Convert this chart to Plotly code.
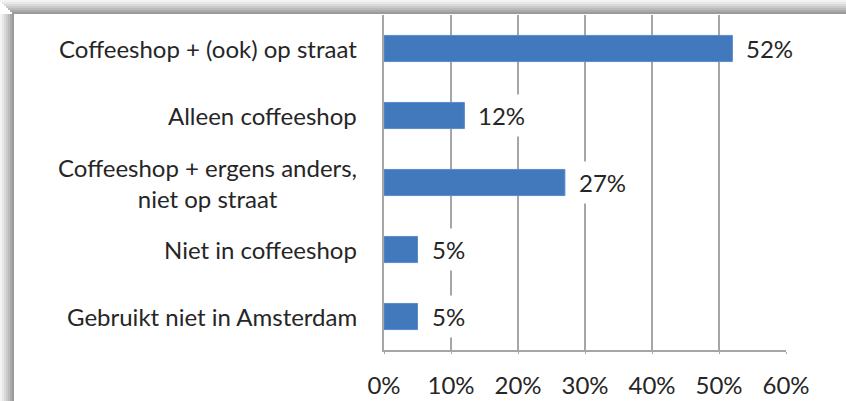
import plotly.graph_objects as go

# Survey answers and share of respondents
categories = [
    "Coffeeshop + (ook) op straat",
    "Alleen coffeeshop",
    "Coffeeshop + ergens anders,<br>niet op straat",
    "Niet in coffeeshop",
    "Gebruikt niet in Amsterdam",
]
shares = [52, 12, 27, 5, 5]
tick_values = [0, 10, 20, 30, 40, 50, 60]
tick_labels = ["0%", "10%", "20%", "30%", "40%", "50%", "60%"]

W, H = 846, 401
L, R, T, B = 384, 60, 15, 51
pw, ph = W - L - R, H - T - B


def px_x(px):
    return (px - L) / pw


def px_y(py):
    return (H - B - py) / ph


font = dict(family="Lato, 'Open Sans', sans-serif", size=24, color="#262626")
grid = "#a6a6a6"

fig = go.Figure(
    go.Bar(
        x=shares,
        y=categories,
        orientation="h",
        marker=dict(color="#4179bc", line=dict(color="#5a8ccb", width=1)),
        width=0.39,
        hoverinfo="skip",
    )
)

# category labels (centered lines, right-aligned block)
for c in categories:
    fig.add_annotation(x=px_x(359), xref="paper", y=c, yref="y", text=c,
                       showarrow=False, xanchor="right", align="center", font=font)

# value labels with white box
for c, v in zip(categories, shares):
    fig.add_annotation(x=v, y=c, text=f"{v}%", showarrow=False, xanchor="left",
                       xshift=7, bgcolor="white", borderpad=6, font=font)

# frame shadow on the left and top
shades = ["#f4f4f4", "#e8e8e8", "#dadada", "#cbcbcb", "#bbbbbb", "#aaaaaa", "#9a9a9a"]
for i, col in enumerate(shades):
    fig.add_shape(type="rect", xref="paper", yref="paper",
                  x0=px_x(i * 2), x1=px_x(i * 2 + 2), y0=px_y(H + 20), y1=px_y(14),
                  fillcolor=col, line_width=0, layer="below")
    fig.add_shape(type="rect", xref="paper", yref="paper",
                  x0=px_x(i * 2), x1=px_x(W + 20), y0=px_y(i * 2 + 2), y1=px_y(i * 2),
                  fillcolor=col, line_width=0, layer="below")

fig.update_layout(
    width=W,
    height=H,
    margin=dict(l=L, r=R, t=T, b=B, autoexpand=False),
    paper_bgcolor="white",
    plot_bgcolor="white",
    showlegend=False,
    font=font,
    xaxis=dict(
        range=[0, 60],
        tickvals=tick_values,
        ticktext=tick_labels,
        showgrid=True,
        gridcolor=grid,
        gridwidth=1.5,
        zeroline=False,
        showline=True,
        linecolor=grid,
        linewidth=1.5,
        ticks="outside",
        ticklen=2,
        tickcolor=grid,
        ticklabelstandoff=11,
        tickfont=font,
        automargin=False,
        fixedrange=True,
    ),
    yaxis=dict(
        categoryorder="array",
        categoryarray=categories,
        autorange="reversed",
        showticklabels=False,
        showgrid=False,
        showline=True,
        linecolor=grid,
        linewidth=1.5,
        ticks="",
        automargin=False,
        fixedrange=True,
    ),
)

fig.write_html("out.html", config={"displayModeBar": False},
               post_script="document.body.style.margin='0';document.body.style.overflow='hidden';")
